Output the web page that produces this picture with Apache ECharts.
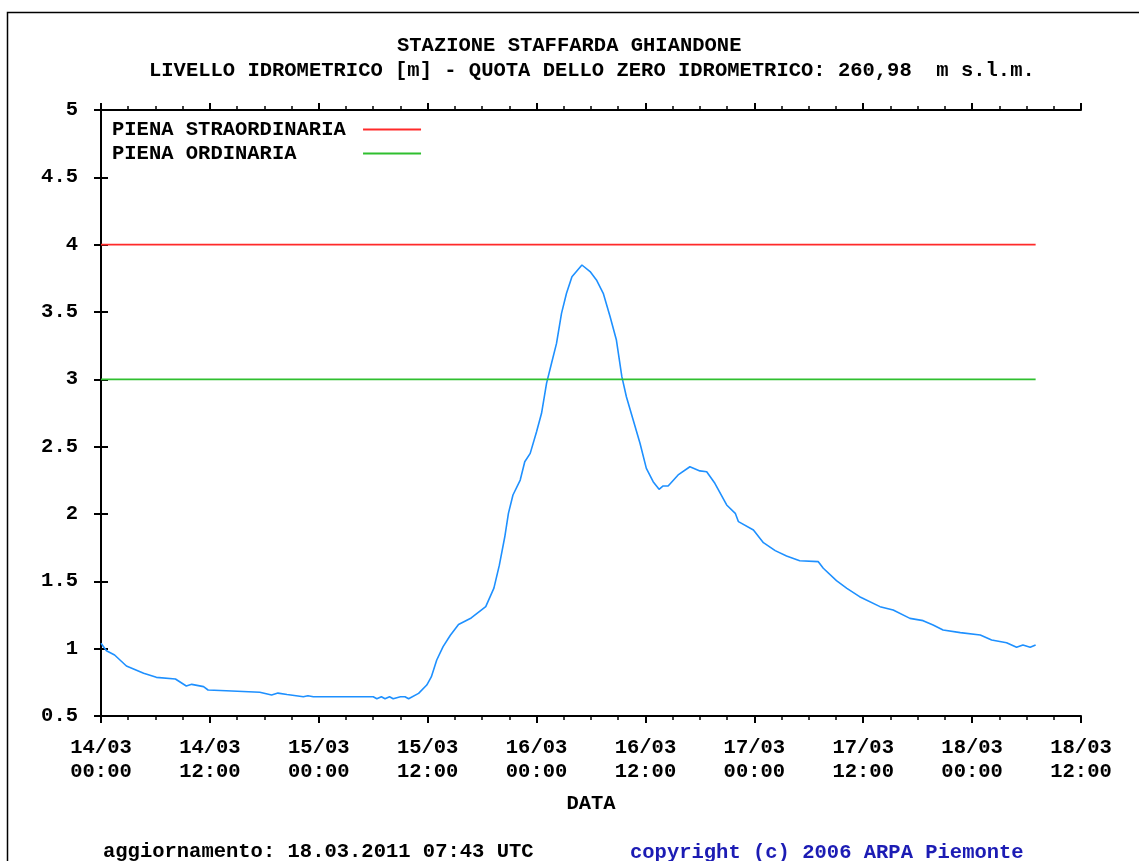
<!DOCTYPE html>
<html>
<head>
<meta charset="utf-8">
<script src="https://cdn.jsdelivr.net/npm/echarts@6/dist/echarts.min.js"></script>
<style>html,body{margin:0;padding:0;background:#fff}#c{width:1139px;height:861px}</style>
</head>
<body>
<div id="c"></div>
<script>
// hours from 14/03 00:00 UTC
const hours = [0,0.6,1.5,2.8,4.7,6.1,8.2,9.4,10.0,11.3,11.8,13.8,17.5,18.8,19.5,20.5,22.3,22.8,23.4,30.0,30.4,30.9,31.3,31.8,32.2,33.0,33.5,33.9,35.0,35.9,36.4,37.0,37.7,38.5,39.4,40.8,42.4,43.3,43.9,44.5,44.9,45.4,46.2,46.7,47.3,48.0,48.55,49.1,49.65,50.2,50.75,51.3,51.9,53.0,53.9,54.6,55.35,56.1,56.8,57.4,57.9,58.65,59.4,60.1,60.85,61.5,61.95,62.5,63.6,64.9,66.0,66.75,67.65,68.95,69.9,70.25,71.9,73.0,74.3,75.55,77.0,79.05,79.6,81.05,82.2,83.6,85.85,87.3,89.15,90.6,91.7,92.8,94.7,96.9,98.15,99.8,100.9,101.6,102.4,103.0];
const levels = [1.04,0.985,0.953,0.871,0.817,0.787,0.775,0.723,0.735,0.718,0.693,0.688,0.676,0.656,0.67,0.66,0.643,0.65,0.643,0.643,0.628,0.643,0.628,0.643,0.628,0.643,0.643,0.628,0.668,0.73,0.79,0.916,1.015,1.10,1.18,1.228,1.312,1.45,1.62,1.831,2.005,2.141,2.252,2.388,2.45,2.611,2.748,2.97,3.119,3.267,3.49,3.639,3.762,3.849,3.80,3.738,3.639,3.466,3.292,3.02,2.871,2.698,2.525,2.339,2.24,2.183,2.208,2.208,2.29,2.351,2.32,2.314,2.228,2.067,2.005,1.943,1.881,1.787,1.728,1.688,1.653,1.646,1.597,1.505,1.448,1.386,1.312,1.287,1.225,1.208,1.176,1.139,1.119,1.101,1.064,1.044,1.01,1.027,1.01,1.027];
const xTickLabels = ['14/03\n00:00','14/03\n12:00','15/03\n00:00','15/03\n12:00','16/03\n00:00','16/03\n12:00','17/03\n00:00','17/03\n12:00','18/03\n00:00','18/03\n12:00'];
const pienaStraordinaria = 4;
const pienaOrdinaria = 3;
const lastHour = 103.0;
const thresholdNames = ['PIENA STRAORDINARIA','PIENA ORDINARIA'];

const FONT = 'Liberation Mono';
const FS = 20.5;
const txt = {fontFamily: FONT, fontWeight: 'bold', fontSize: FS, color: '#000'};

const chart = echarts.init(document.getElementById('c'), null, {renderer: 'canvas'});
const axisLine = {show: true, lineStyle: {color: '#000', width: 2}};
const xCommon = {
  type: 'value', min: 0, max: 108, interval: 12,
  axisLine: axisLine,
  axisTick: {show: true, inside: false, length: 7, lineStyle: {color: '#000', width: 2}},
  minorTick: {show: true, splitNumber: 4, length: 4, lineStyle: {color: '#000', width: 1.5}},
  splitLine: {show: false}
};
const yCommon = {
  type: 'value', min: 0.5, max: 5, interval: 0.5,
  axisLine: axisLine,
  axisTick: {show: true, inside: false, length: 7, lineStyle: {color: '#000', width: 2}},
  splitLine: {show: false}
};
const padLen = Math.max(...thresholdNames.map(n => n.length)) + 1;
const ts = extra => Object.assign({}, txt, {lineHeight: 20}, extra || {});

chart.setOption({
  animation: false,
  backgroundColor: '#fff',
  title: [
    {text: 'STAZIONE STAFFARDA GHIANDONE', left: 397, top: 36, padding: 0, textStyle: ts()},
    {text: 'LIVELLO IDROMETRICO [m] - QUOTA DELLO ZERO IDROMETRICO: 260,98  m s.l.m.', left: 149, top: 61, padding: 0, textStyle: ts()},
    {text: 'aggiornamento: 18.03.2011 07:43 UTC', left: 103, top: 842, padding: 0, textStyle: ts()},
    {text: 'copyright (c) 2006 ARPA Piemonte', left: 630, top: 843, padding: 0, textStyle: ts({color: '#1c1cb4'})}
  ],
  graphic: [
    {type: 'rect', shape: {x: 7.5, y: 12.5, width: 1200, height: 900}, style: {fill: 'none', stroke: '#000', lineWidth: 1.5}, silent: true, z: -1}
  ],
  legend: {
    data: thresholdNames,
    orient: 'vertical', align: 'right',
    left: 112, top: 119, itemGap: 3, padding: 0,
    itemWidth: 58, itemHeight: 2, icon: 'rect',
    textStyle: ts({padding: 0}),
    formatter: n => n.padEnd(padLen, ' '),
    selectedMode: false
  },
  grid: {left: 101, right: 58, top: 110, bottom: 145, containLabel: false},
  xAxis: [
    Object.assign({}, xCommon, {
      position: 'bottom',
      name: 'DATA', nameLocation: 'middle', nameGap: 77,
      nameTextStyle: Object.assign({}, txt),
      axisLabel: Object.assign({}, txt, {margin: 20, lineHeight: 24, formatter: v => xTickLabels[Math.round(v / 12)]})
    }),
    Object.assign({}, xCommon, {position: 'top', axisLabel: {show: false}})
  ],
  yAxis: [
    Object.assign({}, yCommon, {position: 'left', axisLabel: Object.assign({}, txt, {margin: 23, formatter: v => String(v)})}),
    Object.assign({}, yCommon, {position: 'right', axisLabel: {show: false}})
  ],
  series: [
    {name: 'LIVELLO', type: 'line', data: hours.map((h, i) => [h, levels[i]]), showSymbol: false, symbol: 'none', lineStyle: {color: '#1e90ff', width: 1.6}, itemStyle: {color: '#1e90ff'}, z: 3},
    {name: thresholdNames[0], type: 'line', data: [[0, pienaStraordinaria], [lastHour, pienaStraordinaria]], symbol: 'none', lineStyle: {color: '#ff2a2a', width: 1.6}, itemStyle: {color: '#ff2a2a'}},
    {name: thresholdNames[1], type: 'line', data: [[0, pienaOrdinaria], [lastHour, pienaOrdinaria]], symbol: 'none', lineStyle: {color: '#2fbf2f', width: 1.6}, itemStyle: {color: '#2fbf2f'}}
  ]
});
</script>
</body>
</html>
